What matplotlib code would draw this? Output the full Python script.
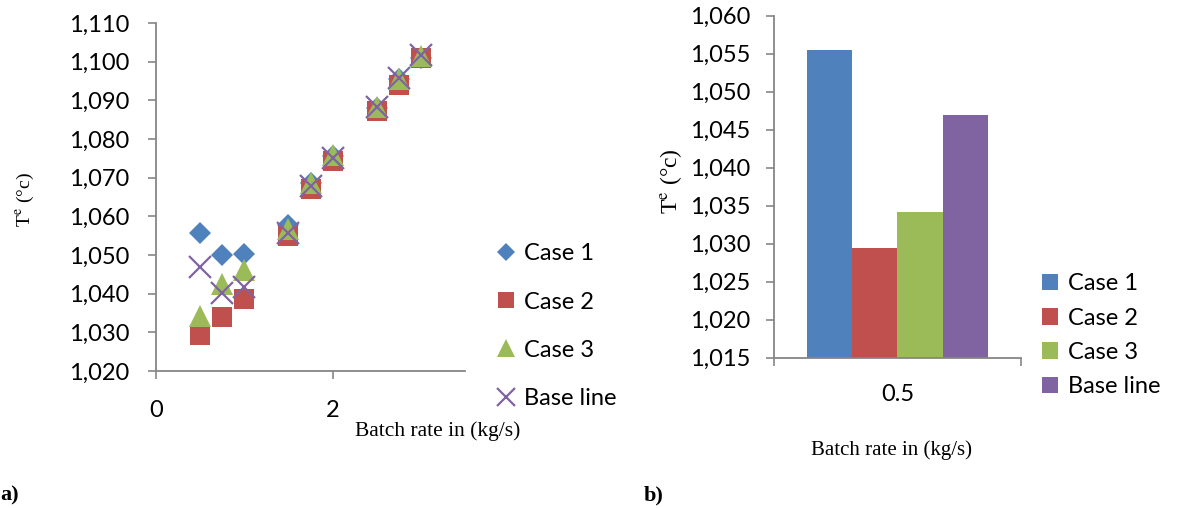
import matplotlib
matplotlib.use("Agg")
import matplotlib.pyplot as plt
from matplotlib.ticker import FuncFormatter

# datos
batch_rate = [0.5, 0.75, 1.0, 1.5, 1.75, 2.0, 2.5, 2.75, 3.0]
case1 = [1055.6, 1050.0, 1050.3, 1057.8, 1068.7, 1075.5, 1088.0, 1095.5, 1101.0]
case2 = [1029.2, 1034.0, 1038.6, 1054.9, 1067.1, 1074.3, 1087.2, 1093.9, 1100.9]
case3 = [1034.2, 1042.5, 1046.0, 1056.8, 1068.6, 1075.8, 1088.3, 1095.6, 1101.5]
base_line = [1047.0, 1040.3, 1041.6, 1055.8, 1067.8, 1075.2, 1088.3, 1095.9, 1101.7]

series_names = ['Case 1', 'Case 2', 'Case 3', 'Base line']
bar_values = [1055.5, 1029.4, 1034.2, 1046.9]
bar_category = '0.5'

colors = ['#4F81BD', '#C0504D', '#9BBB59', '#8064A2']
markers = ['D', 's', '^', 'x']
marker_sizes = [11, 15, 16, 16]

tick_font = 'Lato'
label_font = 'Liberation Serif'
plt.rcParams['mathtext.fontset'] = 'stix'
axis_gray = '#868686'

fmt = FuncFormatter(lambda v, p: f"{int(round(v)):,}")


def style_axes(ax, pad):
    for side in ['top', 'right']:
        ax.spines[side].set_visible(False)
    for side in ['left', 'bottom']:
        ax.spines[side].set_color(axis_gray)
        ax.spines[side].set_linewidth(1.3)
    ax.tick_params(axis='both', colors=axis_gray, length=6, width=1.2, labelcolor='black',
                   labelsize=17, pad=pad)
    for lbl in ax.get_xticklabels() + ax.get_yticklabels():
        lbl.set_fontfamily(tick_font)


fig = plt.figure(figsize=(12, 5.08), dpi=100)

# ---- a) dispersion ----
ax1 = fig.add_axes([0.13, 0.2697, 0.2575, 0.685])
all_series = [case1, case2, case3, base_line]
for vals, name, c, m, ms in zip(all_series, series_names, colors, markers, marker_sizes):
    if m == 'x':
        ax1.plot(batch_rate, vals, linestyle='none', marker=m, color=c, markersize=ms,
                 markeredgewidth=1.6, label=name)
    else:
        ax1.plot(batch_rate, vals, linestyle='none', marker=m, color=c, markersize=ms,
                 markeredgewidth=0, label=name)
ax1.set_xlim(0, 3.5)
ax1.set_ylim(1020, 1110)
ax1.set_xticks([0, 2])
ax1.set_yticks(range(1020, 1111, 10))
ax1.yaxis.set_major_formatter(fmt)
style_axes(ax1, 13)
ax1.tick_params(axis='x', pad=15)

leg1 = ax1.legend(loc='center left', bbox_to_anchor=(0.413, 0.358), bbox_transform=fig.transFigure,
                  frameon=False, prop={'family': tick_font, 'size': 17}, handlelength=0.9,
                  handletextpad=0.3, labelspacing=1.15, borderpad=0, borderaxespad=0,
                  markerscale=0.8)

fig.text(0.365, 1 - 431 / 508, 'Batch rate in (kg/s)', ha='center', va='center',
         family=label_font, fontsize=15.5)
fig.text(0.021, 1 - 200 / 508, r'T$^{\mathrm{e}}$ (°c)', ha='center', va='center',
         rotation=90, family=label_font, fontsize=14)
fig.text(0.0, 1 - 495 / 508, 'a)', ha='left', va='center', family=label_font,
         fontsize=16, fontweight='bold')

# ---- b) barras ----
ax2 = fig.add_axes([0.645, 0.2959, 0.2058, 0.673])
w = 0.183
for i, (v, name, c) in enumerate(zip(bar_values, series_names, colors)):
    ax2.bar((i - 1.5) * w, v - 1015, bottom=1015, width=w, color=c, label=name)
ax2.set_xlim(-0.5, 0.5)
ax2.set_ylim(1015, 1060)
ax2.set_yticks(range(1015, 1061, 5))
ax2.yaxis.set_major_formatter(fmt)
ax2.set_xticks([-0.5, 0.5])
ax2.set_xticklabels(['', ''])
ax2.set_xticks([0], minor=True)
ax2.set_xticklabels([bar_category], minor=True)
style_axes(ax2, 11)
ax2.tick_params(axis='x', which='minor', length=0, pad=19, labelsize=17)
for lbl in ax2.get_xticklabels(minor=True):
    lbl.set_fontfamily(tick_font)

leg2 = ax2.legend(loc='center left', bbox_to_anchor=(0.868, 0.340), bbox_transform=fig.transFigure,
                  frameon=False, prop={'family': tick_font, 'size': 17}, handlelength=0.7,
                  handleheight=0.7, handletextpad=0.4, labelspacing=0.57, borderpad=0,
                  borderaxespad=0)

fig.text(0.743, 1 - 450 / 508, 'Batch rate in (kg/s)', ha='center', va='center',
         family=label_font, fontsize=15)
fig.text(0.559, 1 - 181 / 508, r'T$^{\mathrm{e}}$ (°c)', ha='center', va='center',
         rotation=90, family=label_font, fontsize=17)
fig.text(0.536, 1 - 495 / 508, 'b)', ha='left', va='center', family=label_font,
         fontsize=16, fontweight='bold')

fig.savefig('out.png', dpi=100)
